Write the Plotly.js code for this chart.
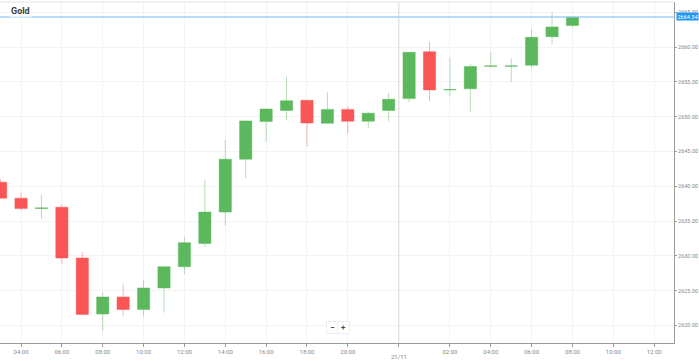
<!DOCTYPE html>
<html>
<head>
<meta charset="utf-8">
<script src="https://cdn.plot.ly/plotly-3.0.1.min.js"></script>
<style>
html,body{margin:0;padding:0;background:#fff;}
#chart{width:699px;height:361px;}
</style>
</head>
<body>
<div id="chart"></div>
<script>
// Hourly candles, 20/11 03:00 to 21/11 08:00 (23:00 session break)
const times = ["03:00","04:00","05:00","06:00","07:00","08:00","09:00","10:00","11:00","12:00",
  "13:00","14:00","15:00","16:00","17:00","18:00","19:00","20:00","21:00","22:00",
  "00:00","01:00","02:00","03:00","04:00","05:00","06:00","07:00","08:00"];
const openP  = [2640.6,2638.3,2636.8,2637.0,2629.7,2621.65,2624.1,2622.3,2625.4,2628.45,
  2631.8,2636.3,2643.9,2649.3,2650.9,2652.35,2649.05,2651.05,2649.35,2650.9,
  2652.6,2659.35,2653.85,2654.0,2657.25,2657.25,2657.4,2661.5,2663.1];
const highP  = [2641.0,2639.0,2638.8,2637.4,2630.5,2624.8,2625.9,2626.5,2628.5,2632.75,
  2640.9,2646.65,2649.5,2651.2,2655.75,2652.4,2653.5,2651.5,2650.7,2653.4,
  2659.3,2660.8,2658.5,2657.6,2659.3,2658.4,2662.55,2664.95,2664.34];
const lowP   = [2638.2,2636.55,2635.3,2628.9,2621.5,2619.2,2621.4,2621.3,2621.85,2627.4,
  2631.3,2634.4,2641.15,2646.4,2649.5,2645.7,2649.0,2647.6,2648.4,2649.3,
  2652.1,2652.25,2652.9,2650.7,2657.2,2655.0,2656.95,2660.4,2662.8];
const closeP = [2638.3,2636.8,2636.9,2629.7,2621.6,2624.1,2622.3,2625.4,2628.45,2631.9,
  2636.3,2643.9,2649.4,2651.1,2652.3,2649.1,2651.05,2649.35,2650.5,2652.5,
  2659.25,2653.85,2653.9,2657.2,2657.3,2657.3,2661.4,2662.9,2664.34];

const xTickLabels = ["04:00","06:00","08:00","10:00","12:00","14:00","16:00","18:00","20:00","",
  "02:00","04:00","06:00","08:00","10:00","12:00"];
const xTickVals = [1,3,5,7,9,11,13,15,17,19.5,22,24,26,28,30,32];
const dayLabel = "21/11";
const dayPos = 19.5;
const yTickVals = [2620,2625,2630,2635,2640,2645,2650,2655,2660,2665];

const xIdx = times.map((t,i)=>i);
const last = closeP[closeP.length-1];

const green = 'rgb(92,184,92)', red = 'rgb(250,86,86)';

const trace = {
  type:'candlestick',
  x:xIdx, open:openP, high:highP, low:lowP, close:closeP,
  increasing:{line:{color:'rgba(92,184,92,0.45)',width:1},fillcolor:green},
  decreasing:{line:{color:'rgba(250,86,86,0.45)',width:1},fillcolor:red},
  whiskerwidth:0,
  hoverinfo:'skip'
};

const layout = {
  width:699, height:361,
  margin:{l:0,r:25,t:2,b:18},
  paper_bgcolor:'#fff', plot_bgcolor:'#fff',
  font:{family:'Roboto, sans-serif', color:'#888', size:6},
  showlegend:false,
  boxgap:0.4, boxgroupgap:0,
  xaxis:{
    range:[-0.03,32.97], rangeslider:{visible:false},
    tickmode:'array', tickvals:xTickVals, ticktext:xTickLabels,
    showgrid:true, gridcolor:'#f3f3f3', gridwidth:1,
    showline:true, linecolor:'#9a9a9a', linewidth:1,
    ticks:'outside', ticklen:3, tickcolor:'#9a9a9a',
    tickfont:{size:6,color:'#888'}, zeroline:false, fixedrange:true
  },
  yaxis:{
    side:'right', range:[2617.49,2666.48],
    tickmode:'array', tickvals:yTickVals, ticktext:yTickVals.map(v=>v.toFixed(2)),
    showgrid:true, gridcolor:'#f3f3f3', gridwidth:1,
    showline:true, linecolor:'#9a9a9a', linewidth:1,
    ticks:'outside', ticklen:2, tickcolor:'#9a9a9a',
    tickfont:{size:5.5,color:'#888'}, zeroline:false, fixedrange:true
  },
  shapes:[
    {type:'line', xref:'paper', yref:'paper', x0:0, x1:1, y0:1, y1:1, line:{color:'#e4e4e4', width:1}},
    {type:'line', xref:'x', yref:'paper', x0:dayPos, x1:dayPos, y0:0, y1:1, line:{color:'#dcdcdc', width:1}},
    {type:'line', xref:'paper', yref:'y', x0:0, x1:1, y0:last, y1:last, line:{color:'rgba(150,205,245,0.9)', width:1.5}}
  ],
  annotations:[
    {xref:'paper', yref:'paper', x:0.014, y:0.975, xanchor:'left', yanchor:'middle', showarrow:false,
     text:'<b>Gold</b>', font:{size:9, color:'#3a3a3a', family:'Roboto, sans-serif'}, bgcolor:'rgba(255,255,255,0.6)'},
    {xref:'paper', yref:'y', x:1.003, y:last, xanchor:'left', yanchor:'middle', showarrow:false,
     text:last.toFixed(2), font:{size:5.5, color:'#fff'}, bgcolor:'#2196f3', borderpad:0.5},
    {xref:'x', yref:'paper', x:dayPos, y:-0.041, xanchor:'center', yanchor:'middle', showarrow:false,
     text:dayLabel, font:{size:6, color:'#888'}},
    {xref:'paper', yref:'paper', x:0.494, y:0.045, xanchor:'center', yanchor:'middle', showarrow:false,
     text:'<b>−</b>', font:{size:8, color:'#444'}, bgcolor:'#fff', bordercolor:'#eeeeee', borderwidth:1, width:9, height:9},
    {xref:'paper', yref:'paper', x:0.51, y:0.045, xanchor:'center', yanchor:'middle', showarrow:false,
     text:'<b>+</b>', font:{size:8, color:'#444'}, bgcolor:'#fff', bordercolor:'#eeeeee', borderwidth:1, width:9, height:9}
  ]
};

Plotly.newPlot('chart',[trace],layout,{displayModeBar:false, staticPlot:true});
</script>
</body>
</html>
